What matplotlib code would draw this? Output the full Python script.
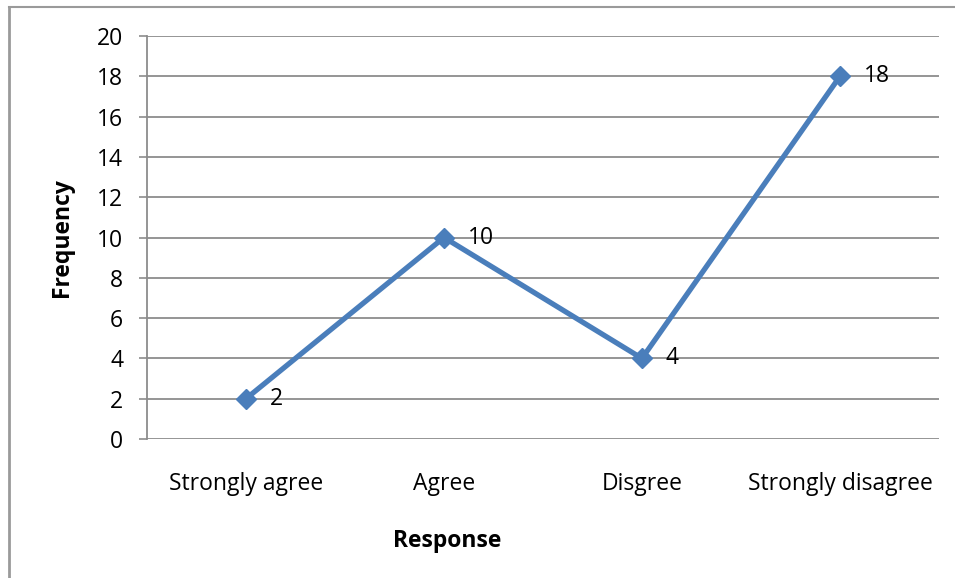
import matplotlib.pyplot as plt
from matplotlib.lines import Line2D

responses = ["Strongly agree", "Agree", "Disgree", "Strongly disagree"]
frequency = [2, 10, 4, 18]
y_ticks = list(range(0, 21, 2))

LINE_BLUE = "#4a7ebb"
GRID_GRAY = "#8c8c8c"
FS = 16.5

plt.rcParams["font.family"] = ["Open Sans", "DejaVu Sans"]

fig = plt.figure(figsize=(9.55, 5.78), dpi=100)
ax = fig.add_axes([0.1539, 0.2405, 0.8293, 0.6972])

x = list(range(len(responses)))
ax.plot(x, frequency, color=LINE_BLUE, lw=3.8, marker="D", ms=10.5,
        markerfacecolor=LINE_BLUE, markeredgecolor=LINE_BLUE, zorder=3)

for xi, val in zip(x, frequency):
    ax.annotate(str(val), (xi, val), xytext=(17, 0), textcoords="offset points",
                ha="left", va="center", fontsize=FS, color="black")

ax.set_xlim(-0.5, len(responses) - 0.5)
ax.set_ylim(0, 20)
ax.set_yticks(y_ticks)
ax.set_xticks(x)
ax.set_xticklabels(responses, fontsize=FS)
ax.tick_params(axis="y", labelsize=FS, length=6, width=1.2, color=GRID_GRAY, pad=11)
ax.tick_params(axis="x", length=0, pad=24)

ax.grid(axis="y", color=GRID_GRAY, lw=1.3)
ax.set_axisbelow(True)
for side in ["top", "right", "bottom"]:
    ax.spines[side].set_visible(False)
ax.spines["left"].set_color(GRID_GRAY)
ax.spines["left"].set_linewidth(1.3)

fig.text(447 / 955, 1 - 541 / 578, "Response", ha="center", va="center",
         fontsize=FS, fontweight="bold")
fig.text(62 / 955, 1 - 238 / 578, "Frequency", ha="center", va="center",
         rotation=90, fontsize=FS, fontweight="bold")

# chart frame: only the top and left edges are in view
fig.add_artist(Line2D([8.5 / 955, 8.5 / 955], [0, 1 - 7 / 578],
                      transform=fig.transFigure, color="#9a9a9a", lw=2))
fig.add_artist(Line2D([8.5 / 955, 1], [1 - 7 / 578, 1 - 7 / 578],
                      transform=fig.transFigure, color="#9a9a9a", lw=1.5))

fig.savefig("out.png", dpi=100)
